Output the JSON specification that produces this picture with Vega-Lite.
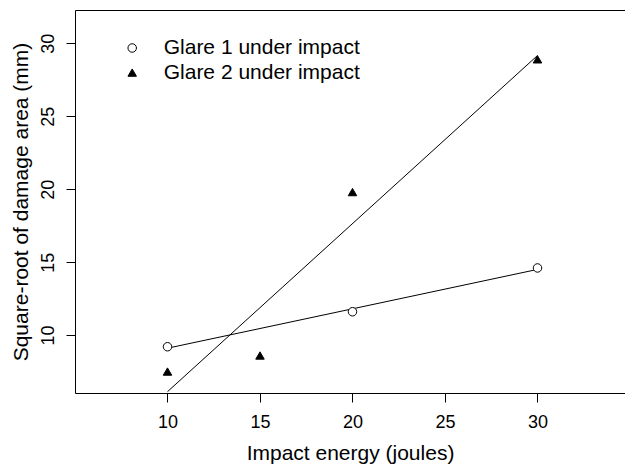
{
  "$schema": "https://vega.github.io/schema/vega-lite/v6.json",
  "width": 550,
  "height": 383,
  "autosize": {"type": "none"},
  "padding": {"left": 75, "top": 10, "right": 0, "bottom": 73},
  "background": "white",
  "config": {
    "view": {"stroke": null},
    "font": "Liberation Sans",
    "axis": {
      "grid": false,
      "domainColor": "black",
      "domainWidth": 1,
      "tickColor": "black",
      "tickWidth": 1,
      "tickSize": 9,
      "labelColor": "black",
      "labelFontSize": 18,
      "titleColor": "black",
      "titleFontSize": 21,
      "titleFontWeight": "normal"
    },
    "legend": {
      "orient": "none",
      "legendX": 46.7,
      "legendY": 27.5,
      "title": null,
      "padding": 0,
      "labelFontSize": 21,
      "labelColor": "black",
      "labelLimit": 0,
      "labelOffset": 21,
      "symbolSize": 72,
      "symbolStrokeColor": "black",
      "symbolStrokeWidth": 1,
      "rowPadding": 2.6
    }
  },
  "data": {
    "values": [
      {"energy": 10, "area": 9.2, "series": "Glare 1 under impact"},
      {"energy": 20, "area": 11.6, "series": "Glare 1 under impact"},
      {"energy": 30, "area": 14.6, "series": "Glare 1 under impact"},
      {"energy": 10, "area": 7.5, "series": "Glare 2 under impact"},
      {"energy": 15, "area": 8.6, "series": "Glare 2 under impact"},
      {"energy": 20, "area": 19.8, "series": "Glare 2 under impact"},
      {"energy": 30, "area": 28.9, "series": "Glare 2 under impact"}
    ]
  },
  "layer": [
    {
      "transform": [
        {"regression": "area", "on": "energy", "groupby": ["series"]}
      ],
      "mark": {"type": "line", "color": "black", "strokeWidth": 1, "clip": true},
      "encoding": {
        "x": {
          "field": "energy",
          "type": "quantitative",
          "scale": {"domain": [5, 34.73], "nice": false, "zero": false},
          "axis": {"orient": "top", "labels": false, "ticks": false, "title": null}
        },
        "y": {
          "field": "area",
          "type": "quantitative",
          "scale": {"domain": [6.03, 32.28], "nice": false, "zero": false},
          "axis": {
            "orient": "left",
            "values": [10, 15, 20, 25, 30],
            "labelAngle": 270,
            "labelPadding": 9,
            "titlePadding": 8,
            "title": "Square-root of damage area (mm)"
          }
        },
        "detail": {"field": "series"}
      }
    },
    {
      "mark": {"type": "point", "strokeWidth": 1, "opacity": 1, "size": 72},
      "encoding": {
        "x": {
          "field": "energy",
          "type": "quantitative",
          "axis": {
            "orient": "bottom",
            "values": [10, 15, 20, 25, 30],
            "labelPadding": 11,
            "titlePadding": 11,
            "title": "Impact energy (joules)"
          }
        },
        "y": {
          "field": "area",
          "type": "quantitative",
          "axis": {
            "orient": "left",
            "values": [10, 15, 20, 25, 30],
            "labelAngle": 270,
            "labelPadding": 9,
            "titlePadding": 8,
            "title": "Square-root of damage area (mm)"
          }
        },
        "shape": {
          "field": "series",
          "type": "nominal",
          "scale": {"range": ["circle", "triangle-up"]}
        },
        "fill": {
          "field": "series",
          "type": "nominal",
          "scale": {"range": ["white", "black"]}
        },
        "stroke": {
          "field": "series",
          "type": "nominal",
          "scale": {"range": ["black", "black"]}
        }
      }
    }
  ],
  "resolve": {"axis": {"x": "independent"}}
}
